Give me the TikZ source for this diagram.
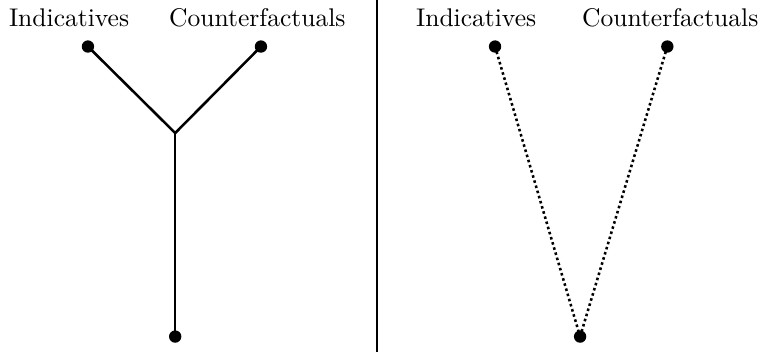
\documentclass[tikz,border=0pt]{standalone}
\usepackage{amssymb}
\usepackage{amsmath}
\usepackage{tikz}
\usetikzlibrary{positioning,calc}

\begin{document}
\begin{tikzpicture}[
    dotnode/.style={circle, fill, minimum size=1.7mm, inner sep=0pt},
    labnode/.style={anchor=base, inner sep=0pt},
    branch/.style={line width=1pt},
    weakbranch/.style={line width=1pt, dash pattern=on 1pt off 1.1pt}
]
\useasboundingbox (0,0) rectangle (10.51,4.84);

% --- Left: branching picture ---
\node[dotnode] (li) at (1.21,4.20) {};
\node[dotnode] (lc) at (3.59,4.20) {};
\coordinate (lj) at (2.41,3.01);
\node[dotnode] (lb) at (2.41,0.21) {};
\node[labnode] (lil) at (0.95,4.48) {Indicatives};
\node[labnode] (lcl) at (3.54,4.48) {Counterfactuals};

\draw[branch] (li.center) -- (lj) -- (lc.center);
\draw[branch] (lj) -- (lb.center);

% --- Divider ---
\coordinate (dtop) at (5.19,4.84);
\coordinate (dbot) at (5.19,0);
\draw[line width=0.9pt] (dtop) -- (dbot);

% --- Right: two separate lines ---
\node[dotnode] (ri) at (6.81,4.20) {};
\node[dotnode] (rc) at (9.18,4.20) {};
\node[dotnode] (rb) at (7.98,0.21) {};
\node[labnode] (ril) at (6.55,4.48) {Indicatives};
\node[labnode] (rcl) at (9.22,4.48) {Counterfactuals};

\foreach \x in {ri,rc}{
  \draw[weakbranch] (\x.center) -- (rb.center);
}

\end{tikzpicture}
\end{document}
